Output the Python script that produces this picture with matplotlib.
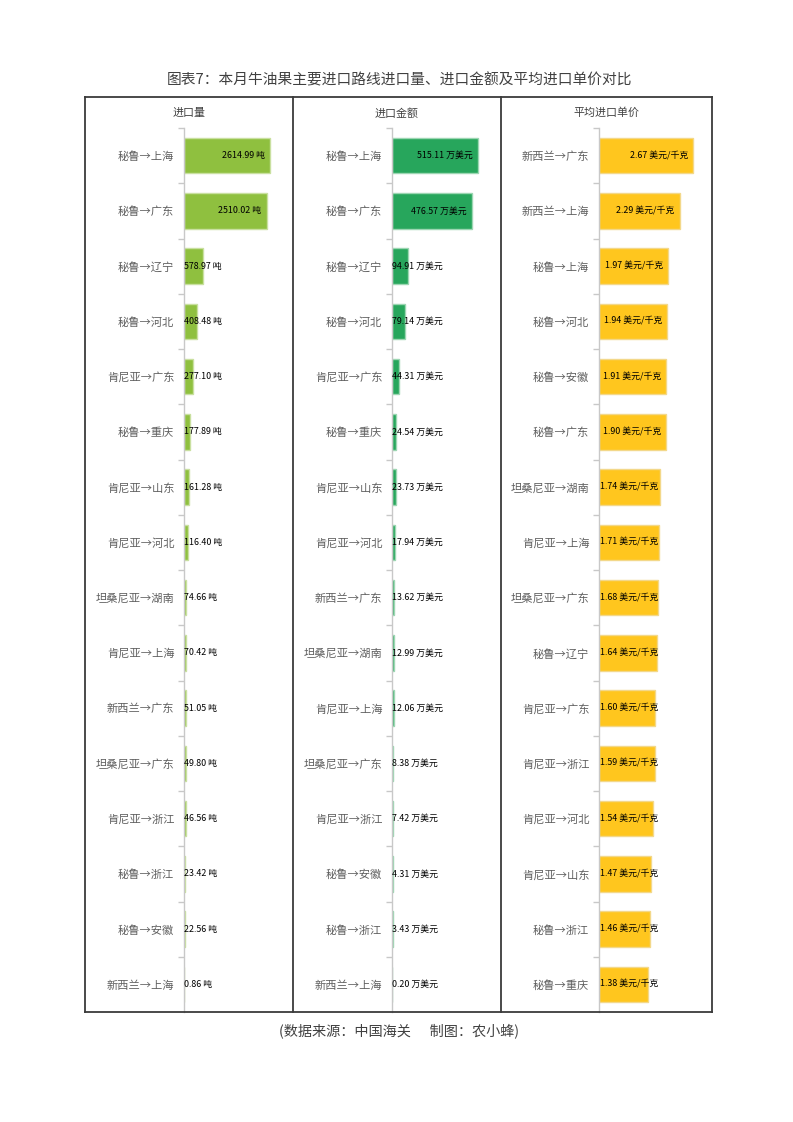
import matplotlib
matplotlib.use("Agg")
import matplotlib.pyplot as plt
from matplotlib.lines import Line2D
import numpy as np

plt.rcParams['font.family'] = ['Noto Sans CJK SC', 'DejaVu Sans']

# ---- data ----
routes_qty = ['秘鲁→上海', '秘鲁→广东', '秘鲁→辽宁', '秘鲁→河北', '肯尼亚→广东', '秘鲁→重庆',
              '肯尼亚→山东', '肯尼亚→河北', '坦桑尼亚→湖南', '肯尼亚→上海', '新西兰→广东',
              '坦桑尼亚→广东', '肯尼亚→浙江', '秘鲁→浙江', '秘鲁→安徽', '新西兰→上海']
qty = [2614.99, 2510.02, 578.97, 408.48, 277.10, 177.89, 161.28, 116.40,
       74.66, 70.42, 51.05, 49.80, 46.56, 23.42, 22.56, 0.86]

routes_amt = ['秘鲁→上海', '秘鲁→广东', '秘鲁→辽宁', '秘鲁→河北', '肯尼亚→广东', '秘鲁→重庆',
              '肯尼亚→山东', '肯尼亚→河北', '新西兰→广东', '坦桑尼亚→湖南', '肯尼亚→上海',
              '坦桑尼亚→广东', '肯尼亚→浙江', '秘鲁→安徽', '秘鲁→浙江', '新西兰→上海']
amt = [515.11, 476.57, 94.91, 79.14, 44.31, 24.54, 23.73, 17.94,
       13.62, 12.99, 12.06, 8.38, 7.42, 4.31, 3.43, 0.20]

routes_price = ['新西兰→广东', '新西兰→上海', '秘鲁→上海', '秘鲁→河北', '秘鲁→安徽', '秘鲁→广东',
                '坦桑尼亚→湖南', '肯尼亚→上海', '坦桑尼亚→广东', '秘鲁→辽宁', '肯尼亚→广东',
                '肯尼亚→浙江', '肯尼亚→河北', '肯尼亚→山东', '秘鲁→浙江', '秘鲁→重庆']
price = [2.67, 2.29, 1.97, 1.94, 1.91, 1.90, 1.74, 1.71,
         1.68, 1.64, 1.60, 1.59, 1.54, 1.47, 1.46, 1.38]

panel_titles = ['进口量', '进口金额', '平均进口单价']
units = [' 吨', ' 万美元', ' 美元/千克']

W, H = 793, 1122
fig = plt.figure(figsize=(W / 100, H / 100), dpi=100)
fig.patch.set_facecolor('white')


def fx(px):
    return px / W


def fy(py):
    return 1 - py / H


# panel setup: axis x position (px), bar px for max value, colours
panels = [
    (routes_qty, qty, 184, 86, '#8FC03F', '#C9E0A0'),
    (routes_amt, amt, 392, 86, '#27A65C', '#9CD6B2'),
    (routes_price, price, 599, 94, '#FFC61E', '#F3D88A'),
]
ax_w = 100
top, bottom = 128, 1012

fig.canvas.draw()
renderer = fig.canvas.get_renderer()

for i, (cats, vals, x0, bar_px, col, edge) in enumerate(panels):
    ax = fig.add_axes([fx(x0), fy(bottom), fx(ax_w), (bottom - top) / H])
    n = len(cats)
    y = np.arange(n)
    xmax = max(vals) * ax_w / bar_px
    ax.barh(y, vals, height=0.64, color=col, edgecolor=edge, linewidth=1.0, zorder=2)
    ax.set_xlim(0, xmax)
    ax.set_ylim(n - 0.5, -0.5)
    ax.set_facecolor('none')
    for s in ['top', 'right', 'bottom']:
        ax.spines[s].set_visible(False)
    ax.spines['left'].set_color('#c8c8c8')
    ax.spines['left'].set_linewidth(1.0)
    ax.set_xticks([])
    ax.set_yticks(y)
    ax.set_yticklabels(cats, fontsize=8.1, color='#5f5f5f')
    ax.tick_params(axis='y', which='major', length=0, pad=7)
    ax.set_yticks(np.arange(n) - 0.5, minor=True)
    ax.tick_params(axis='y', which='minor', length=4, color='#c8c8c8', width=1)

    # value labels: inside right end when they fit, else from the axis start
    for yi, v in zip(y, vals):
        t = ax.text(0, yi, f'{v:.2f}{units[i]}', fontsize=6.4, color='black',
                    va='center', ha='left', zorder=3)
        tw = t.get_window_extent(renderer).width
        end_px = v / xmax * ax_w
        if end_px - 5 - tw >= 1:
            t.set_x(v - 5 * xmax / ax_w)
            t.set_ha('right')
        else:
            t.set_x(0.5 * xmax / ax_w)

    # panel title
    cx = [189, 397, 606][i]
    fig.text(fx(cx), fy(113), panel_titles[i], fontsize=7.9, color='#404040',
             ha='center', va='center')

# frame around the three panels
box_col = '#3a3a3a'
lw = 1.3
for xs, ys in [([85, 712], [97, 97]), ([85, 712], [1012, 1012]),
               ([85, 85], [97, 1012]), ([712, 712], [97, 1012]),
               ([293, 293], [97, 1012]), ([501, 501], [97, 1012])]:
    fig.add_artist(Line2D([fx(a) for a in xs], [fy(b) for b in ys],
                          color=box_col, linewidth=lw))

fig.text(fx(400), fy(80), '图表7：本月牛油果主要进口路线进口量、进口金额及平均进口单价对比',
         fontsize=10.6, color='#404040', ha='center', va='center')
fig.text(fx(399), fy(1032), '(数据来源：中国海关      制图：农小蜂)',
         fontsize=10.2, color='#404040', ha='center', va='center')

fig.savefig('out.png', dpi=100, facecolor='white')
